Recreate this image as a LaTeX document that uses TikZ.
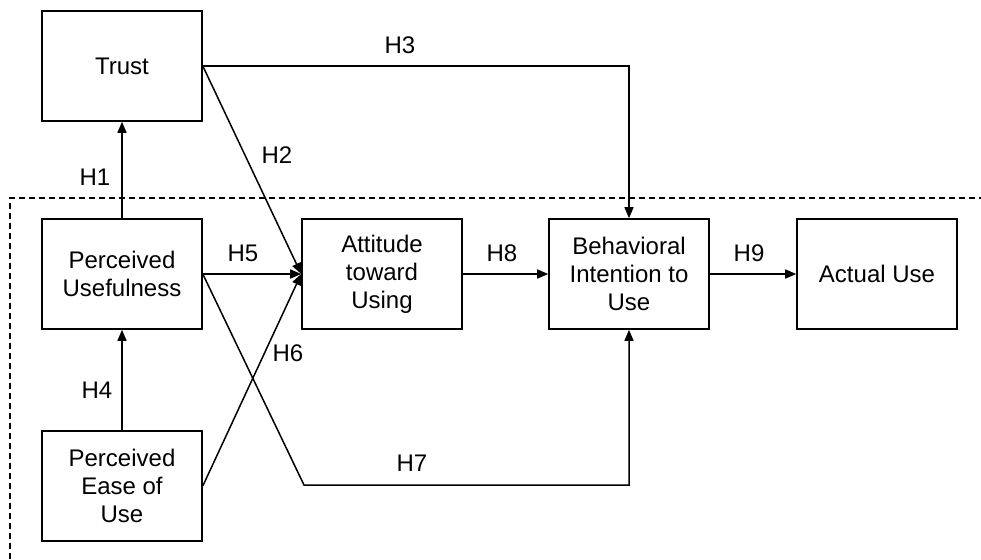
\documentclass[tikz,border=0pt]{standalone}
\usepackage{fontspec}
\setmainfont{Liberation Sans}
\usetikzlibrary{arrows.meta}

\tikzset{
  construct/.style={draw=black,line width=1.6pt,minimum width=160pt,minimum height=110pt,
    align=center,inner sep=0pt,font=\fontsize{24}{28}\selectfont},
  hyp/.style={font=\fontsize{24}{28}\selectfont},
  link/.style={line width=1.5pt,-{Triangle[length=11pt,width=9pt]}},
  frame/.style={line width=1.3pt,dash pattern=on 6pt off 4pt}
}

\begin{document}
\begin{tikzpicture}[x=1pt,y=-1pt]
\useasboundingbox (0,0) rectangle (981,559);
% dashed TAM boundary
\draw[frame] (10,559) -- (10,198) -- (981,198);
% Constructs
\node[construct] (trust) at (122,66) {Trust};
\node[construct] (pu) at (122,274) {Perceived\\Usefulness};
\node[construct] (peu) at (122,486) {Perceived\\Ease of\\Use};
\node[construct] (att) at (382,274) {Attitude\\toward\\Using};
\node[construct] (bi) at (629,274) {Behavioral\\Intention to\\Use};
\node[construct] (use) at (877,274) {Actual Use};
\coordinate (bend) at (304,485); % H7 corner
% Paths
\draw[link] (pu) -- (trust); % H1
\draw[link] (trust.east) -- (att.west); % H2
\draw[link] (trust.east) -| (bi.north); % H3
\draw[link] (peu) -- (pu); % H4
\draw[link] (pu.east) -- (att.west); % H5
\draw[link] (peu.east) -- (att.west); % H6
\draw[link] (pu.east) -- (bend) -| (bi.south); % H7
\draw[link] (att) -- (bi); % H8
\draw[link] (bi) -- (use); % H9
% Labels
\node[hyp] (h1) at (95,177) {H1};
\node[hyp] (h2) at (277,155) {H2};
\node[hyp] (h3) at (400,45) {H3};
\node[hyp] (h4) at (97,390) {H4};
\node[hyp] (h5) at (243,253) {H5};
\node[hyp] (h6) at (288,353) {H6};
\node[hyp] (h7) at (412,463) {H7};
\node[hyp] (h8) at (502,253) {H8};
\node[hyp] (h9) at (749,253) {H9};
\end{tikzpicture}
\end{document}
